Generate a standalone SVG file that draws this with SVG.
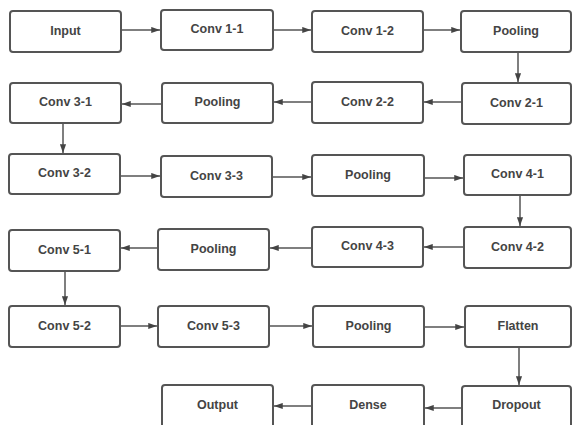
<svg xmlns="http://www.w3.org/2000/svg" width="572" height="425" viewBox="0 0 572 425">
<style>
.n rect{fill:#fff;stroke:#555;stroke-width:2}
.n text{font-family:"Liberation Sans",Arial,sans-serif;font-weight:bold;font-size:12.5px;fill:#444;text-anchor:middle}
.c line{stroke:#555;stroke-width:1.5;marker-end:url(#a)}
</style>
<defs>
<marker id="a" viewBox="0 0 10 8" refX="10" refY="4" markerWidth="9" markerHeight="7" markerUnits="userSpaceOnUse" orient="auto"><path d="M0,0.5 L10,4 L0,7.5 z" fill="#444"/></marker>
</defs>
<rect width="572" height="425" fill="#fff"/>
<g id="connectors" class="c">
<line x1="121" y1="30" x2="160" y2="30"/>
<line x1="273" y1="30" x2="311" y2="30"/>
<line x1="423" y1="30" x2="460" y2="30"/>
<line x1="518" y1="52" x2="518" y2="82"/>
<line x1="462" y1="102" x2="424" y2="102"/>
<line x1="312" y1="102" x2="274" y2="102"/>
<line x1="162" y1="104" x2="122" y2="104"/>
<line x1="63" y1="123" x2="63" y2="153"/>
<line x1="120" y1="176" x2="160" y2="176"/>
<line x1="272" y1="177" x2="311" y2="177"/>
<line x1="424" y1="178" x2="463" y2="178"/>
<line x1="520" y1="195" x2="520" y2="226"/>
<line x1="464" y1="247" x2="424" y2="247"/>
<line x1="312" y1="248" x2="270" y2="248"/>
<line x1="158" y1="248" x2="121" y2="248"/>
<line x1="65" y1="271" x2="65" y2="305"/>
<line x1="120" y1="326" x2="157" y2="326"/>
<line x1="269" y1="326" x2="312" y2="326"/>
<line x1="424" y1="327" x2="464" y2="327"/>
<line x1="519" y1="347" x2="519" y2="385"/>
<line x1="462" y1="408" x2="425" y2="408"/>
<line x1="312" y1="406" x2="274" y2="406"/>
</g>
<g id="input" class="n"><rect x="10" y="11" width="111" height="41" rx="3"/><text x="65.5" y="34.5">Input</text></g>
<g id="conv1-1" class="n"><rect x="161" y="10" width="112" height="40" rx="3"/><text x="217" y="33">Conv 1-1</text></g>
<g id="conv1-2" class="n"><rect x="312" y="11" width="111" height="41" rx="3"/><text x="367.5" y="34.5">Conv 1-2</text></g>
<g id="pooling1" class="n"><rect x="461" y="11" width="110" height="41" rx="3"/><text x="516" y="34.5">Pooling</text></g>
<g id="conv2-1" class="n"><rect x="462" y="83" width="109" height="41" rx="3"/><text x="516.5" y="106.5">Conv 2-1</text></g>
<g id="conv2-2" class="n"><rect x="312" y="82" width="111" height="41" rx="3"/><text x="367.5" y="105.5">Conv 2-2</text></g>
<g id="pooling2" class="n"><rect x="162" y="83" width="111" height="40" rx="3"/><text x="217.5" y="106">Pooling</text></g>
<g id="conv3-1" class="n"><rect x="10" y="83" width="111" height="40" rx="3"/><text x="65.5" y="106">Conv 3-1</text></g>
<g id="conv3-2" class="n"><rect x="9" y="154" width="111" height="40" rx="3"/><text x="64.5" y="177">Conv 3-2</text></g>
<g id="conv3-3" class="n"><rect x="161" y="156" width="111" height="41" rx="3"/><text x="216.5" y="179.5">Conv 3-3</text></g>
<g id="pooling3" class="n"><rect x="312" y="155" width="112" height="41" rx="3"/><text x="368" y="178.5">Pooling</text></g>
<g id="conv4-1" class="n"><rect x="464" y="155" width="107" height="40" rx="3"/><text x="517.5" y="178">Conv 4-1</text></g>
<g id="conv4-2" class="n"><rect x="464" y="227" width="107" height="41" rx="3"/><text x="517.5" y="250.5">Conv 4-2</text></g>
<g id="conv4-3" class="n"><rect x="312" y="227" width="111" height="40" rx="3"/><text x="367.5" y="250">Conv 4-3</text></g>
<g id="pooling4" class="n"><rect x="158" y="229" width="111" height="41" rx="3"/><text x="213.5" y="252.5">Pooling</text></g>
<g id="conv5-1" class="n"><rect x="9" y="230" width="111" height="41" rx="3"/><text x="64.5" y="253.5">Conv 5-1</text></g>
<g id="conv5-2" class="n"><rect x="9" y="306" width="111" height="41" rx="3"/><text x="64.5" y="329.5">Conv 5-2</text></g>
<g id="conv5-3" class="n"><rect x="158" y="306" width="111" height="41" rx="3"/><text x="213.5" y="329.5">Conv 5-3</text></g>
<g id="pooling5" class="n"><rect x="313" y="306" width="111" height="41" rx="3"/><text x="368.5" y="329.5">Pooling</text></g>
<g id="flatten" class="n"><rect x="465" y="306" width="106" height="41" rx="3"/><text x="518" y="329.5">Flatten</text></g>
<g id="dropout" class="n"><rect x="462" y="386" width="109" height="42" rx="3"/><text x="516.5" y="409">Dropout</text></g>
<g id="dense" class="n"><rect x="312" y="385" width="112" height="43" rx="3"/><text x="368" y="409">Dense</text></g>
<g id="output" class="n"><rect x="162" y="385" width="111" height="43" rx="3"/><text x="217.5" y="409">Output</text></g>
</svg>
